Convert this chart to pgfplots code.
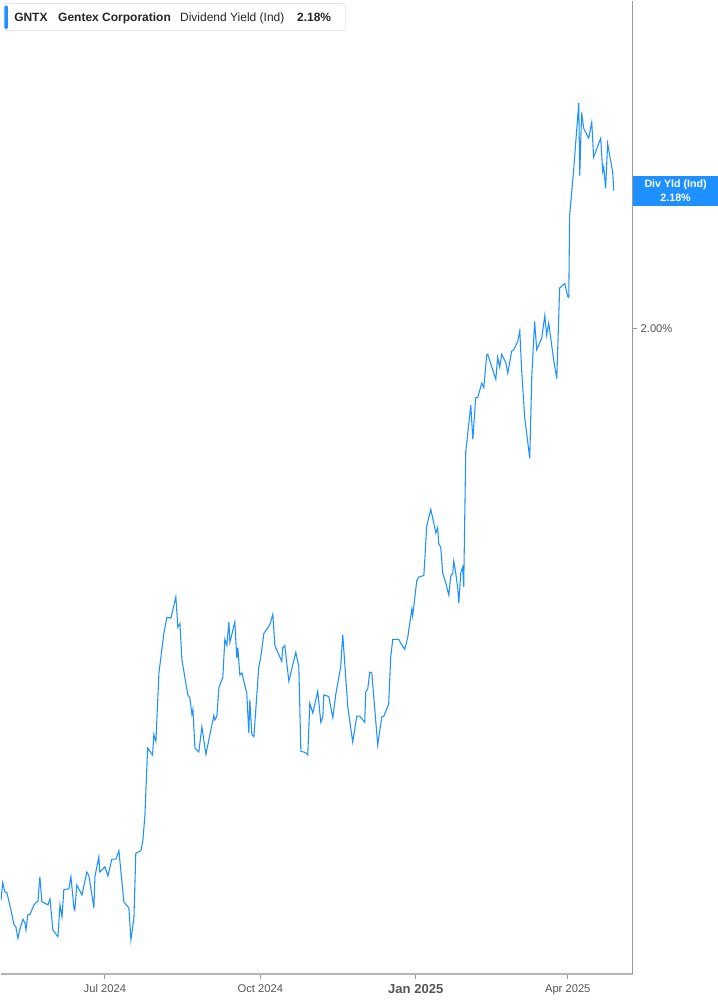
\documentclass[border=0pt]{standalone}
\usepackage{pgfplots}
\pgfplotsset{compat=1.18}
\usepackage{fontspec}
\setmainfont{Liberation Sans}
\definecolor{lineblue}{RGB}{30,144,255}
\definecolor{axisgray}{RGB}{180,180,180}
\definecolor{textgray}{RGB}{85,85,85}
\definecolor{boxgray}{RGB}{228,228,228}

% x: days since 1 Jul 2024, y: dividend yield in %
\begin{document}
\begin{tikzpicture}
\begin{scope}[x=0.75pt,y=-0.75pt,shift={(0pt,730.5pt)}]
\useasboundingbox (0,0) rectangle (717,1005);
\end{scope}
\begin{axis}[
  at={(0pt,0pt)}, anchor=south west,
  scale only axis, width=474pt, height=730.5pt,
  xmin=-61.5, xmax=312.4, ymin=1.151, ymax=2.431,
  axis x line*=bottom, axis y line*=right,
  x axis line style={draw=axisgray, line width=1.5pt, -},
  y axis line style={draw=gray!80, line width=0.9pt, -},
  xtick={0,92,184,274},
  xticklabels={Jul 2024, Oct 2024, {\fontsize{9.8}{11}\selectfont\bfseries Jan 2025}, Apr 2025},
  ytick={2.0}, yticklabels={2.00\%},
  tick align=outside,
  major tick length=3.5pt,
  every tick/.style={draw=gray!80, line width=0.6pt},
  xticklabel style={font=\fontsize{8.4}{10}\selectfont, text=textgray, yshift=-1pt},
  yticklabel style={font=\fontsize{8.4}{10}\selectfont, text=textgray, xshift=-1pt},
]
\addplot[lineblue, line width=0.8pt] coordinates {
(-61.5,1.248)(-60.5,1.271)(-59.2,1.259)(-58.0,1.258)(-55.6,1.235)(-53.8,1.216)
(-52.7,1.213)(-51.5,1.198)(-50.3,1.210)(-48.5,1.223)(-47.3,1.218)(-46.7,1.209)
(-45.6,1.229)(-44.4,1.229)(-42.0,1.242)(-39.6,1.247)(-38.5,1.279)(-37.3,1.246)
(-33.7,1.242)(-32.5,1.250)(-30.8,1.209)(-27.8,1.200)(-26.6,1.242)(-25.4,1.226)
(-24.3,1.262)(-21.3,1.263)(-20.1,1.279)(-18.3,1.237)(-17.8,1.235)(-16.6,1.268)
(-13.6,1.255)(-10.7,1.285)(-9.5,1.281)(-6.5,1.238)(-5.9,1.279)(-3.6,1.305)
(-3.0,1.285)(0.0,1.292)(1.8,1.280)(4.1,1.302)(6.5,1.302)(8.3,1.313)
(10.7,1.258)(11.2,1.246)(14.2,1.238)(15.4,1.196)(17.2,1.225)(18.3,1.310)
(21.3,1.313)(22.5,1.327)(23.7,1.360)(25.3,1.448)(28.2,1.439)(29.0,1.466)
(30.2,1.457)(32.0,1.547)(34.9,1.599)(36.7,1.620)(39.1,1.619)(42.0,1.647)
(43.2,1.607)(44.4,1.612)(45.6,1.564)(49.1,1.518)(50.3,1.514)(51.5,1.493)
(52.1,1.499)(53.3,1.448)(55.6,1.443)(57.4,1.476)(59.8,1.440)(64.5,1.491)
(65.1,1.485)(66.3,1.490)(67.5,1.528)(69.8,1.541)(71.0,1.591)(72.2,1.583)
(73.4,1.614)(74.0,1.587)(76.9,1.614)(78.1,1.566)(78.7,1.580)(79.9,1.544)
(81.1,1.547)(84.0,1.520)(85.2,1.468)(85.8,1.511)(87.0,1.466)(88.2,1.463)
(91.1,1.555)(92.3,1.568)(94.1,1.599)(96.4,1.606)(97.6,1.610)(99.4,1.624)
(100.6,1.583)(101.8,1.577)(104.7,1.562)(105.3,1.580)(106.5,1.583)(108.9,1.536)
(113.0,1.574)(114.8,1.555)(116.0,1.444)(118.9,1.442)(120.1,1.439)(121.3,1.507)
(123.1,1.494)(126.0,1.523)(127.8,1.482)(129.0,1.489)(129.6,1.518)(132.5,1.516)
(134.9,1.488)(136.7,1.519)(139.6,1.555)(140.8,1.597)(143.8,1.502)(146.7,1.456)
(149.1,1.490)(150.9,1.490)(153.8,1.482)(154.4,1.522)(155.6,1.526)(156.8,1.548)
(158.0,1.547)(161.5,1.452)(163.9,1.489)(165.1,1.490)(168.0,1.506)(169.2,1.568)
(170.4,1.591)(174.0,1.591)(175.1,1.586)(177.5,1.578)(179.3,1.594)(181.7,1.631)
(182.2,1.622)(184.6,1.668)(185.8,1.673)(188.8,1.675)(189.3,1.693)(190.5,1.740)
(192.9,1.762)(194.7,1.744)(195.9,1.731)(197.0,1.738)(197.6,1.717)(198.8,1.712)
(200.0,1.678)(201.8,1.665)(203.6,1.649)(204.7,1.674)(205.9,1.678)(206.5,1.694)
(207.7,1.678)(208.9,1.658)(209.5,1.639)(210.7,1.679)(211.8,1.686)(212.4,1.660)
(213.6,1.837)(216.6,1.899)(217.8,1.854)(219.5,1.909)(220.7,1.909)(223.1,1.928)
(224.3,1.922)(226.0,1.965)(226.6,1.966)(231.4,1.933)(232.5,1.962)(233.7,1.949)
(234.9,1.966)(237.3,1.955)(238.5,1.941)(240.8,1.970)(242.0,1.972)(244.4,1.983)
(245.6,1.997)(246.7,1.945)(248.5,1.883)(251.5,1.829)(252.7,1.937)(254.4,2.009)
(255.6,1.972)(258.6,1.987)(260.4,2.017)(261.5,1.991)(262.7,2.007)(265.7,1.958)
(267.5,1.934)(269.2,2.053)(272.2,2.059)(274.0,2.042)(274.6,2.041)(275.1,2.148)
(277.5,2.209)(280.5,2.296)(281.1,2.201)(282.2,2.284)(283.4,2.263)(286.4,2.250)
(288.2,2.271)(289.3,2.225)(293.5,2.250)(294.7,2.206)(295.3,2.212)(296.4,2.184)
(297.6,2.243)(300.6,2.205)(301.2,2.181)
};
\end{axis}
\begin{scope}[x=0.75pt,y=-0.75pt,shift={(0pt,730.5pt)}]
% header box
\draw[boxgray, fill=white, rounded corners=2pt, line width=0.6pt] (3,3) rectangle (345,30);
\fill[lineblue, rounded corners=1pt] (3.5,5) rectangle (7,28.5);
\node[anchor=base west, inner sep=0pt, font=\fontsize{9}{11}\selectfont\bfseries, text=black!85] at (13,21) {GNTX};
\node[anchor=base west, inner sep=0pt, font=\fontsize{9}{11}\selectfont\bfseries, text=black!85] at (57,21) {Gentex Corporation};
\node[anchor=base west, inner sep=0pt, font=\fontsize{9}{11}\selectfont, text=black!85] at (179,21) {Dividend Yield (Ind)};
\node[anchor=base west, inner sep=0pt, font=\fontsize{9}{11}\selectfont\bfseries, text=black!85] at (296,21) {2.18\%};
% last value box
\fill[lineblue] (632.5,176) rectangle (717,206);
\node[inner sep=0pt, font=\fontsize{8}{9}\selectfont\bfseries, text=white] at (675,184.5) {Div Yld (Ind)};
\node[inner sep=0pt, font=\fontsize{8}{9}\selectfont\bfseries, text=white] at (675,197) {2.18\%};
\end{scope}
\end{tikzpicture}
\end{document}
